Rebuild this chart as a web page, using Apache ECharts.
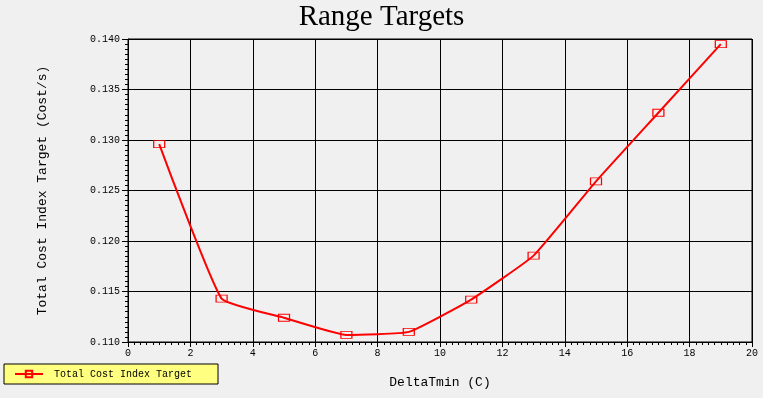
<!DOCTYPE html>
<html><head><meta charset="utf-8">
<script src="https://cdn.jsdelivr.net/npm/echarts@6/dist/echarts.min.js"></script>
<style>html,body{margin:0;padding:0;background:#F0F0F0}#c{width:763px;height:398px}</style>
</head><body><div id="c"></div>
<script>
var xValues = [1, 3, 5, 7, 9, 11, 13, 15, 17, 19];
var yValues = [0.1296, 0.1143, 0.1124, 0.1107, 0.1110, 0.1142, 0.11855, 0.1259, 0.1327, 0.1395];
var seriesName = 'Total Cost Index Target';
var titleText = 'Range Targets';
var xName = 'DeltaTmin (C)';
var yName = 'Total Cost Index Target (Cost/s)';

var data = xValues.map(function (x, i) { return [x, yValues[i]]; });
var chart = echarts.init(document.getElementById('c'));
var mono = 'Liberation Mono';
chart.setOption({
  backgroundColor: '#F0F0F0',
  animation: false,
  title: {
    text: titleText, left: 'center', top: -2,
    textStyle: { fontFamily: 'Liberation Serif', fontSize: 29, fontWeight: 'normal', color: '#000' }
  },
  grid: { left: 128, right: 11, top: 39, bottom: 56, show: true, borderColor: '#000', borderWidth: 1, backgroundColor: 'transparent' },
  legend: {
    left: 4, top: 364, orient: 'horizontal',
    backgroundColor: '#FFFF80', borderColor: '#000', borderWidth: 1,
    padding: [5, 26, 5, 10], itemWidth: 28, itemHeight: 8,
    textStyle: { fontFamily: mono, fontSize: 10, color: '#000', padding: [0, 0, 0, 6] },
    data: [seriesName]
  },
  xAxis: {
    type: 'value', min: 0, max: 20, interval: 2,
    name: xName, nameLocation: 'middle', nameGap: 34,
    nameTextStyle: { fontFamily: mono, fontSize: 13, color: '#000' },
    axisLine: { show: true, lineStyle: { color: '#000', width: 1 } },
    axisTick: { show: true, length: 5, lineStyle: { color: '#000' } },
    minorTick: { show: true, splitNumber: 10, length: 3, lineStyle: { color: '#000' } },
    axisLabel: { fontFamily: mono, fontSize: 10, color: '#000', margin: 6 },
    splitLine: { show: true, lineStyle: { color: '#000', width: 1 } }
  },
  yAxis: {
    type: 'value', min: 0.110, max: 0.140, interval: 0.005,
    name: yName, nameLocation: 'middle', nameGap: 79, nameRotate: 90,
    nameTextStyle: { fontFamily: mono, fontSize: 13, color: '#000' },
    axisLine: { show: true, lineStyle: { color: '#000', width: 1 } },
    axisTick: { show: true, length: 6, lineStyle: { color: '#000' } },
    minorTick: { show: true, splitNumber: 10, length: 3, lineStyle: { color: '#000' } },
    axisLabel: { fontFamily: mono, fontSize: 10, color: '#000', margin: 8, formatter: function (v) { return v.toFixed(3); } },
    splitLine: { show: true, lineStyle: { color: '#000', width: 1 } }
  },
  series: [{
    name: seriesName, type: 'line', data: data,
    smooth: 0.12,
    symbol: 'rect', symbolSize: [11, 7],
    lineStyle: { color: '#FF0000', width: 2 },
    itemStyle: { color: 'rgba(0,0,0,0)', borderColor: '#FF0000', borderWidth: 1 }
  }]
});
</script></body></html>
